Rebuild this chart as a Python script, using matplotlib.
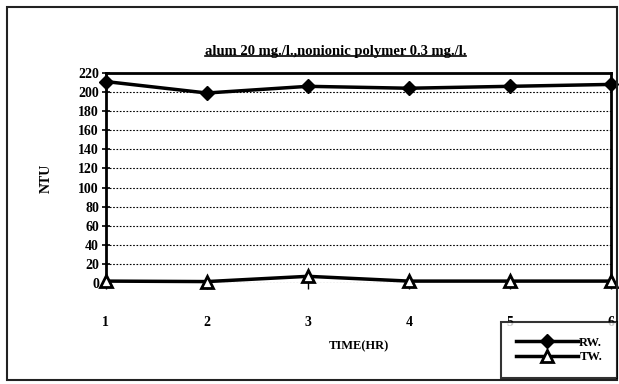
import matplotlib
matplotlib.use('Agg')
import matplotlib.pyplot as plt
from matplotlib.patches import Rectangle
from matplotlib.lines import Line2D

# data
hours = [1, 2, 3, 4, 5, 6]
rw = [211, 199, 206, 204, 206, 208]
tw = [2, 1.5, 7, 2, 2, 2]
yticks = list(range(0, 221, 20))

plt.rcParams['font.family'] = ['Liberation Serif', 'DejaVu Serif']
plt.rcParams['font.weight'] = 'bold'

fig = plt.figure(figsize=(6.19, 3.84), dpi=100)
ax = fig.add_axes([0.171, 0.263, 0.816, 0.547])

# outer frame around the whole picture
fig.patches.append(Rectangle((0.011, 0.01), 0.986, 0.972, transform=fig.transFigure,
                             fill=False, edgecolor='#222222', linewidth=1.5))

l1, = ax.plot(hours, rw, color='black', linewidth=2.5, marker='D', markersize=7,
              markerfacecolor='black', markeredgecolor='black', clip_on=False, zorder=4)
l2, = ax.plot(hours, tw, color='black', linewidth=2.5, marker='^', markersize=8,
              markerfacecolor='white', markeredgecolor='black', markeredgewidth=2,
              clip_on=False, zorder=4)

ax.set_xlim(1, 6)
ax.set_ylim(0, 220)
ax.set_yticks(yticks)
ax.set_xticks(hours)
ax.yaxis.grid(True, linestyle=(0, (1.5, 1.5)), color='black', linewidth=0.8)
ax.set_axisbelow(True)

for side in ['left', 'right', 'top']:
    ax.spines[side].set_linewidth(2)
ax.spines['bottom'].set_visible(False)

ax.tick_params(axis='y', direction='inout', length=6, width=1.2, labelsize=10, pad=2)
ax.tick_params(axis='x', direction='inout', length=8, width=1, labelsize=10, pad=20)
for lab in ax.get_xticklabels() + ax.get_yticklabels():
    lab.set_fontweight('bold')

ax.set_ylabel('NTU', fontsize=10, fontweight='bold', labelpad=18)
ax.set_xlabel('TIME(HR)', fontsize=9, fontweight='bold', labelpad=8)
title = ax.set_title('alum 20 mg./l.,nonionic polymer 0.3 mg./l.', fontsize=10.5,
                     fontweight='bold', pad=13)
title.set_x(0.455)

leg = fig.legend([l1, l2], ['RW.', 'TW.'], loc='lower right',
                 bbox_to_anchor=(0.997, 0.015), fontsize=9, frameon=True,
                 fancybox=False, edgecolor='black', handlelength=5,
                 handletextpad=0.1, borderpad=1.2, labelspacing=0.2,
                 borderaxespad=0)
leg.get_frame().set_linewidth(1.5)

# underline the title
fig.canvas.draw()
bb = title.get_window_extent().transformed(fig.transFigure.inverted())
fig.lines.append(Line2D([bb.x0, bb.x1], [bb.y0 + 0.004, bb.y0 + 0.004],
                        transform=fig.transFigure, color='black', linewidth=1.2))

fig.savefig('out.png', dpi=100, facecolor='white')
